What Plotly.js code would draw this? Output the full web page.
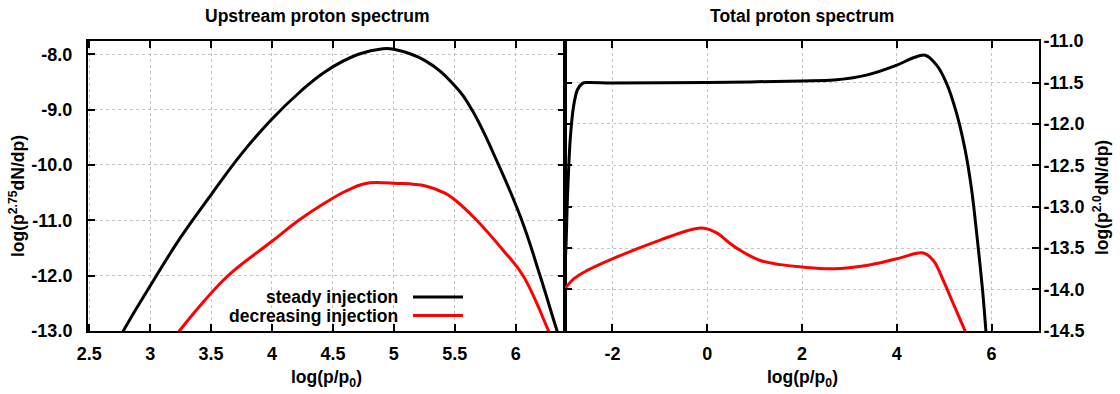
<!DOCTYPE html>
<html>
<head>
<meta charset="utf-8">
<script src="https://cdn.plot.ly/plotly-3.0.1.min.js"></script>
<style>html,body{margin:0;padding:0;background:#fff;}#chart{width:1120px;height:394px;}</style>
</head>
<body>
<div id="chart"></div>
<script>
// ---------- data: upstream proton spectrum (left panel) ----------
const upSteadyX = [2.70, 2.78, 3.03, 3.25, 3.51, 3.75, 4.00, 4.22, 4.44, 4.71, 4.91, 5.00, 5.26, 5.50, 5.64, 5.86, 6.05, 6.20, 6.34, 6.40];
const upSteadyY = [-13.35, -13.0, -12.08, -11.31, -10.51, -9.80, -9.17, -8.70, -8.31, -8.00, -7.90, -7.91, -8.12, -8.57, -9.00, -10.0, -11.0, -12.0, -13.0, -13.4];
const upDecrX = [3.15, 3.24, 3.44, 3.64, 4.00, 4.22, 4.44, 4.60, 4.76, 4.90, 5.00, 5.26, 5.42, 5.50, 5.68, 5.90, 6.06, 6.27, 6.30];
const upDecrY = [-13.25, -13.0, -12.47, -12.0, -11.38, -11.0, -10.68, -10.48, -10.34, -10.32, -10.33, -10.38, -10.51, -10.63, -11.0, -11.55, -12.0, -13.0, -13.15];

// ---------- data: total proton spectrum (right panel) ----------
const totSteadyX = [-3.05, -2.98, -2.95, -2.89, -2.82, -2.74, -2.63, -2.53, -2.0, 0.0, 2.0, 2.67, 3.36, 4.0, 4.35, 4.60, 4.84, 5.05, 5.26, 5.44, 5.58, 5.70, 5.81, 5.88, 5.92];
const totSteadyY = [-14.2, -13.49, -12.92, -12.19, -11.79, -11.59, -11.51, -11.50, -11.505, -11.50, -11.48, -11.47, -11.41, -11.29, -11.20, -11.17, -11.29, -11.51, -11.87, -12.31, -12.80, -13.40, -14.01, -14.5, -14.8];
const totDecrX = [-3.05, -3.0, -2.81, -2.53, -2.0, -0.98, -0.28, -0.07, 0.21, 0.45, 0.70, 1.12, 1.55, 2.0, 2.67, 3.36, 4.0, 4.56, 4.77, 4.98, 5.19, 5.44, 5.50];
const totDecrY = [-14.03, -13.99, -13.87, -13.77, -13.63, -13.40, -13.27, -13.26, -13.32, -13.43, -13.53, -13.65, -13.70, -13.73, -13.75, -13.71, -13.63, -13.56, -13.65, -13.89, -14.17, -14.5, -14.58];

// ---------- tick labels ----------
const leftXTicks = [2.5, 3, 3.5, 4, 4.5, 5, 5.5, 6];
const leftXLabels = ['2.5', '3', '3.5', '4', '4.5', '5', '5.5', '6'];
const leftYTicks = [-13, -12, -11, -10, -9, -8];
const leftYLabels = ['-13.0', '-12.0', '-11.0', '-10.0', '-9.0', '-8.0'];
const rightXTicks = [-2, 0, 2, 4, 6];
const rightXLabels = ['-2', '0', '2', '4', '6'];
const rightYTicks = [-14.5, -14, -13.5, -13, -12.5, -12, -11.5, -11];
const rightYLabels = ['-14.5', '-14.0', '-13.5', '-13.0', '-12.5', '-12.0', '-11.5', '-11.0'];

const seriesNames = ['steady injection', 'decreasing injection'];
const seriesColors = ['#000000', '#ff0000'];

const FONT = 'Liberation Sans, Arial, Helvetica, sans-serif';
const lineW = 3;

function tr(x, y, ci, xa, ya, sm) {
  return {x: x, y: y, type: 'scatter', mode: 'lines', xaxis: xa, yaxis: ya,
          name: seriesNames[ci], showlegend: false, hoverinfo: 'skip',
          line: {color: seriesColors[ci], width: lineW, shape: 'spline', smoothing: sm}};
}

const data = [
  tr(upSteadyX, upSteadyY, 0, 'x', 'y', 1.2),
  tr(upDecrX, upDecrY, 1, 'x', 'y', 1.2),
  tr(totSteadyX, totSteadyY, 0, 'x2', 'y2', 0.8),
  tr(totDecrX, totDecrY, 1, 'x2', 'y2', 1.1)
];

const tickFont = {family: FONT, size: 18, color: '#000', weight: 'bold'};
function axisBase() {
  return {showline: true, linecolor: '#000', linewidth: 2, mirror: 'ticks',
          ticks: 'inside', ticklen: 7, tickwidth: 2, tickcolor: '#000',
          showgrid: true, gridcolor: '#c4c4c4', gridwidth: 1, griddash: '3px,3px',
          zeroline: false, tickmode: 'array', tickfont: tickFont, fixedrange: true};
}

const L = 88, R = 81, T = 41, B = 63, W = 1120, H = 394;
const PW = W - L - R, PH = H - T - B;
const split = (565 - L) / PW;
const px = v => (v - L) / PW;
const py = v => (T + PH - v) / PH;
const tf = {family: FONT, size: 17.5, color: '#000', weight: 'bold'};

const layout = {
  width: W, height: H,
  margin: {l: L, r: R, t: T, b: B, pad: 0},
  paper_bgcolor: '#fff', plot_bgcolor: '#fff',
  showlegend: false,
  font: {family: FONT, size: 17, color: '#000', weight: 'bold'},
  xaxis: Object.assign(axisBase(), {domain: [0, split], range: [2.49, 6.405], anchor: 'y',
          tickvals: leftXTicks, ticktext: leftXLabels, ticklabelstandoff: 5}),
  yaxis: Object.assign(axisBase(), {domain: [0, 1], range: [-13.002, -7.76], anchor: 'x',
          tickvals: leftYTicks, ticktext: leftYLabels, ticklabelstandoff: 10}),
  xaxis2: Object.assign(axisBase(), {domain: [split, 1], range: [-3, 7], anchor: 'y2',
          tickvals: rightXTicks, ticktext: rightXLabels, ticklabelstandoff: 5}),
  yaxis2: Object.assign(axisBase(), {domain: [0, 1], range: [-14.502, -10.998], anchor: 'x2', side: 'right',
          tickvals: rightYTicks, ticktext: rightYLabels, ticklabelstandoff: -1}),
  annotations: [
    {text: 'Upstream proton spectrum', xref: 'paper', yref: 'paper', x: px(317), y: py(16),
     xanchor: 'center', yanchor: 'middle', showarrow: false, font: tf},
    {text: 'Total proton spectrum', xref: 'paper', yref: 'paper', x: px(802), y: py(16),
     xanchor: 'center', yanchor: 'middle', showarrow: false, font: tf},
    {text: 'log(p/p<sub>0</sub>)', xref: 'paper', yref: 'paper', x: px(326.5), y: py(378),
     xanchor: 'center', yanchor: 'middle', showarrow: false, font: tf},
    {text: 'log(p/p<sub>0</sub>)', xref: 'paper', yref: 'paper', x: px(802), y: py(378),
     xanchor: 'center', yanchor: 'middle', showarrow: false, font: tf},
    {text: 'log(p<sup>2.75</sup>dN/dp)', xref: 'paper', yref: 'paper', x: px(17), y: py(196),
     xanchor: 'center', yanchor: 'middle', textangle: -90, showarrow: false, font: tf},
    {text: 'log(p<sup>2.0</sup>dN/dp)', xref: 'paper', yref: 'paper', x: px(1101), y: py(198),
     xanchor: 'center', yanchor: 'middle', textangle: -90, showarrow: false, font: tf},
    {text: seriesNames[0], xref: 'paper', yref: 'paper', x: px(400), y: py(297),
     xanchor: 'right', yanchor: 'middle', showarrow: false, font: tf},
    {text: seriesNames[1], xref: 'paper', yref: 'paper', x: px(400), y: py(315.5),
     xanchor: 'right', yanchor: 'middle', showarrow: false, font: tf}
  ],
  shapes: [
    {type: 'line', xref: 'paper', yref: 'paper', x0: px(413), x1: px(463), y0: py(297), y1: py(297),
     line: {color: seriesColors[0], width: lineW}},
    {type: 'line', xref: 'paper', yref: 'paper', x0: px(413), x1: px(463), y0: py(315.5), y1: py(315.5),
     line: {color: seriesColors[1], width: lineW}}
  ]
};

Plotly.newPlot('chart', data, layout, {staticPlot: true, displayModeBar: false});
</script>
</body>
</html>
